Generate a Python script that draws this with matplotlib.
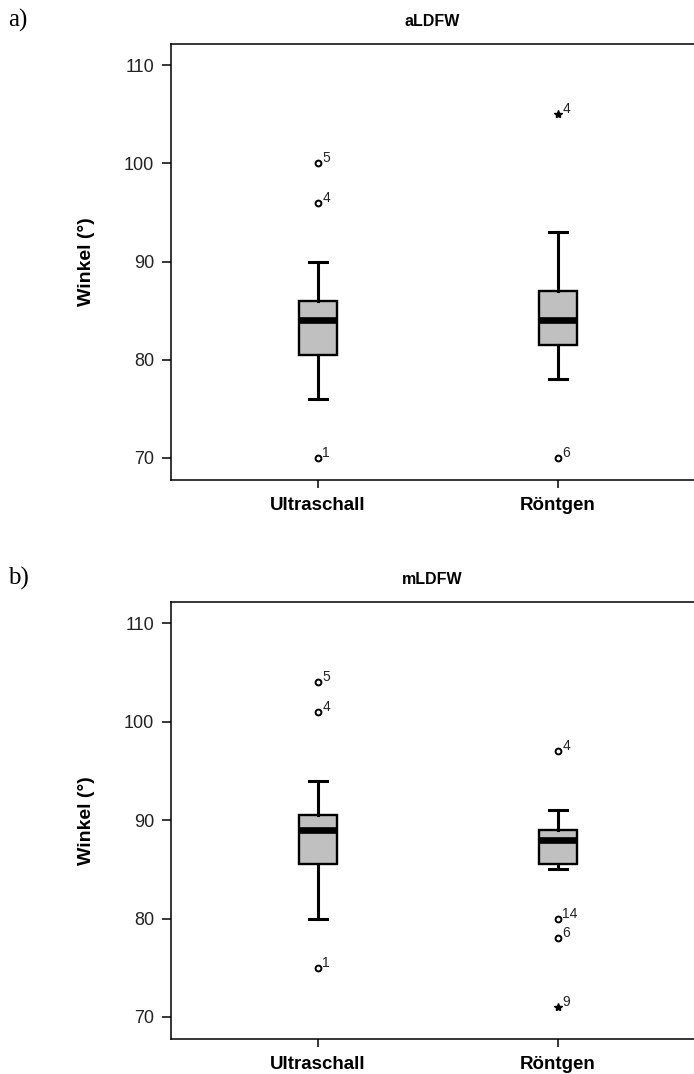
import matplotlib
matplotlib.use("Agg")
import matplotlib.pyplot as plt

plt.rcParams["font.family"] = ["Liberation Sans", "DejaVu Sans"]

# groups on the x axis
groups = ["Ultraschall", "Röntgen"]

# aLDFW: box statistics per group
a_q1 = [80.5, 81.5]
a_med = [84, 84]
a_q3 = [86, 87]
a_lo = [76, 78]
a_hi = [90, 93]
a_out = [[70, 96, 100], [70]]
a_out_ids = [["1", "4", "5"], ["6"]]
a_ext = [[], [105]]
a_ext_ids = [[], ["4"]]

# mLDFW: box statistics per group
b_q1 = [85.5, 85.5]
b_med = [89, 88]
b_q3 = [90.5, 89]
b_lo = [80, 85]
b_hi = [94, 91]
b_out = [[75, 101, 104], [97, 80, 78]]
b_out_ids = [["1", "4", "5"], ["4", "14", "6"]]
b_ext = [[], [71]]
b_ext_ids = [[], ["9"]]

yticks = [70, 80, 90, 100, 110]

FIG_W, FIG_H = 694, 1074
AX_L, AX_R = 171, 705


def draw_panel(fig, top_px, bottom_px, title, letter, q1, med, q3, lo, hi,
               out, out_ids, ext, ext_ids):
    ax = fig.add_axes([AX_L / FIG_W, 1 - bottom_px / FIG_H,
                       (AX_R - AX_L) / FIG_W, (bottom_px - top_px) / FIG_H])
    stats = []
    for i, name in enumerate(groups):
        stats.append(dict(label=name, q1=q1[i], med=med[i], q3=q3[i],
                          whislo=lo[i], whishi=hi[i], fliers=[]))
    pos = list(range(1, len(groups) + 1))
    ax.bxp(stats, positions=pos, widths=0.158, capwidths=0.075,
           patch_artist=True, showfliers=False,
           boxprops=dict(facecolor="#c0c0c0", edgecolor="black", linewidth=1.7),
           medianprops=dict(color="black", linewidth=4.8, solid_capstyle="butt"),
           whiskerprops=dict(color="black", linewidth=2.2),
           capprops=dict(color="black", linewidth=2.2))

    for i, p in enumerate(pos):
        for v, lab in zip(out[i], out_ids[i]):
            ax.plot(p, v, "o", ms=4.2, mfc="white", mec="black", mew=1.4,
                    zorder=4, clip_on=False)
            ax.annotate(lab, (p, v), xytext=(3, 3.5), textcoords="offset points",
                        ha="left", va="center", fontsize=10, color="#222222")
        for v, lab in zip(ext[i], ext_ids[i]):
            ax.plot(p, v, "*", ms=6, color="black", zorder=4, clip_on=False)
            ax.annotate(lab, (p, v), xytext=(3, 3.5), textcoords="offset points",
                        ha="left", va="center", fontsize=10, color="#222222")

    ax.set_xlim(1 - (318 - AX_L) / 240, 2 + (AX_R - 558) / 240)
    ax.set_ylim(67.76, 112.15)
    ax.set_yticks(yticks)
    ax.set_xticks(pos)
    ax.set_xticklabels(groups, fontsize=13.5, fontweight="bold")
    ax.tick_params(axis="y", labelsize=13, length=6.5, width=1.1, pad=5.5,
                   colors="black", labelcolor="#222222")
    ax.tick_params(axis="x", length=6, width=1.1, pad=6)
    for s in ax.spines.values():
        s.set_linewidth(1.1)
    ax.set_ylabel("Winkel (°)", fontsize=14, fontweight="bold")
    ax.yaxis.set_label_coords((95 - AX_L) / (AX_R - AX_L), 0.5)

    fig.text(432 / FIG_W, 1 - (top_px - 22) / FIG_H, title, ha="center",
             va="center", fontsize=11.5, fontweight="bold")
    fig.text(8 / FIG_W, 1 - (top_px - 24) / FIG_H, letter, ha="left",
             va="center", fontsize=18, family=["Liberation Serif"])
    return ax


fig = plt.figure(figsize=(FIG_W / 100, FIG_H / 100), dpi=100)

draw_panel(fig, 44, 480, "aLDFW", "a)", a_q1, a_med, a_q3, a_lo, a_hi,
           a_out, a_out_ids, a_ext, a_ext_ids)
draw_panel(fig, 602, 1039, "mLDFW", "b)", b_q1, b_med, b_q3, b_lo, b_hi,
           b_out, b_out_ids, b_ext, b_ext_ids)

fig.savefig("out.png", dpi=100)
